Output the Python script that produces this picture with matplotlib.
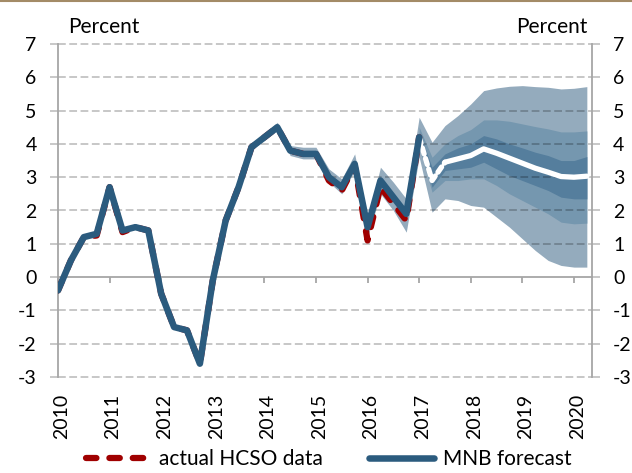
import matplotlib
matplotlib.use('Agg')
import matplotlib.pyplot as plt
from matplotlib.lines import Line2D
import numpy as np

plt.rcParams['font.family'] = ['Lato', 'DejaVu Sans']

# negyedéves adatok, 2010 Q1-től
actual = [-0.4, 0.5, 1.2, 1.25, 2.7, 1.35, 1.5, 1.4, -0.5, -1.5, -1.6, -2.6, -0.1,
          1.7, 2.7, 3.9, 4.2, 4.5, 3.8, 3.7, 3.7, 2.9, 2.6, 3.35, 1.1, 2.7, 2.2, 1.7, 4.2]
mnb = [-0.4, 0.5, 1.2, 1.3, 2.7, 1.4, 1.5, 1.4, -0.5, -1.5, -1.6, -2.6, -0.1,
       1.7, 2.7, 3.9, 4.2, 4.5, 3.8, 3.7, 3.7, 3.0, 2.7, 3.4, 1.5, 2.9, 2.4, 1.9, 4.2]

# múltbeli sáv (2013 Q3 - 2016 Q4)
hist_lo = [2.65, 3.82, 4.1, 4.4, 3.65, 3.55, 3.55, 2.85, 2.5, 3.2, 1.2, 2.5, 2.0, 1.35]
hist_hi = [2.75, 3.98, 4.3, 4.65, 3.95, 3.9, 3.9, 3.25, 2.95, 3.7, 1.75, 3.3, 2.85, 2.35]

# előrejelzés legyező (2017 Q1 - 2020 Q2)
center = [4.2, 2.9, 3.45, 3.55, 3.65, 3.85, 3.72, 3.57, 3.42, 3.27, 3.15, 3.02, 3.0, 3.03]
outer_lo = [3.6, 1.95, 2.35, 2.3, 2.15, 2.1, 1.8, 1.5, 1.15, 0.8, 0.5, 0.35, 0.3, 0.3]
outer_hi = [4.8, 4.05, 4.55, 4.85, 5.2, 5.6, 5.68, 5.73, 5.75, 5.72, 5.7, 5.65, 5.67, 5.72]
mid_lo = [3.9, 2.55, 2.9, 2.9, 2.95, 2.95, 2.75, 2.5, 2.3, 2.1, 1.9, 1.65, 1.6, 1.62]
mid_hi = [4.5, 3.6, 4.0, 4.25, 4.43, 4.72, 4.72, 4.68, 4.6, 4.52, 4.45, 4.36, 4.36, 4.39]
dark_lo = [4.05, 2.7, 3.2, 3.25, 3.3, 3.45, 3.25, 3.05, 2.9, 2.75, 2.6, 2.4, 2.35, 2.35]
dark_hi = [4.35, 3.3, 3.7, 3.88, 4.0, 4.25, 4.15, 4.0, 3.88, 3.75, 3.65, 3.5, 3.5, 3.62]

years = list(range(2010, 2021))
yticks = list(range(-3, 8))

t_line = 2010 + np.arange(len(mnb)) / 4
t_hist = 2010 + (14 + np.arange(len(hist_lo))) / 4
t_fc = 2010 + (28 + np.arange(len(center))) / 4

blue = '#2b5b7e'
red = '#a00000'
grey = '#a6a6a6'
fs = 15

fig = plt.figure(figsize=(6.32, 4.73), dpi=100)
ax = fig.add_axes([58 / 632, 1 - 377 / 473, 534 / 632, 333 / 473])

# sávok
ax.fill_between(np.concatenate([t_hist, t_fc]), hist_lo + outer_lo, hist_hi + outer_hi,
                color='#94abbd', lw=0, zorder=1)
ax.fill_between(t_fc, mid_lo, mid_hi, color='#7597af', lw=0, zorder=1.1)
ax.fill_between(t_fc, dark_lo, dark_hi, color='#557e9d', lw=0, zorder=1.2)

# rácsvonalak
for v in yticks:
    if v != 0:
        ax.axhline(v, color='k', alpha=0.22, lw=1.4, ls=(0, (4, 1.8)), zorder=1.5, clip_on=False)

ax.plot(t_line, actual, color=red, lw=4.5, dashes=(1.67, 2.07), dash_capstyle='round', zorder=3)
ax.plot(t_line, mnb, color=blue, lw=4.7, solid_capstyle='round', solid_joinstyle='round', zorder=4)
ax.plot(t_fc[:3], center[:3], color='white', lw=3.8, dashes=(1.2, 0.9), dash_capstyle='round', zorder=3.5)
ax.plot(t_fc[2:], center[2:], color='white', lw=3.8, solid_capstyle='round', zorder=3.5)

ax.set_xlim(2010, 2020.35)
ax.set_ylim(-3, 7)

ax.spines['top'].set_visible(False)
ax.spines['bottom'].set_position(('data', 0))
for s in ['left', 'right', 'bottom']:
    ax.spines[s].set_color(grey)
    ax.spines[s].set_linewidth(1.3)

ax.set_yticks(yticks)
ax.set_yticklabels([str(v) for v in yticks])
ax.tick_params(axis='y', left=True, right=True, labelleft=True, labelright=True,
               length=5.8, width=1.3, color='#c4c4c4', labelsize=14, pad=9.5)
ax.set_xticks(years)
ax.tick_params(axis='x', direction='out', length=4.5, width=1.3, color=grey, labelbottom=False)

for yr in years:
    ax.annotate(str(yr), (yr, -3), xytext=(2.5, -12), textcoords='offset points',
                rotation=90, ha='center', va='top', fontsize=14)

fig.text(68 / 632, 1 - 33 / 473, 'Percent', fontsize=fs, va='baseline', ha='left')
fig.text(587 / 632, 1 - 33 / 473, 'Percent', fontsize=fs, va='baseline', ha='right')

fig.add_artist(Line2D([0, 1], [1 - 1 / 473, 1 - 1 / 473], color='#a38b67', lw=1.5))

handles = [Line2D([], [], color=red, lw=4.5, dashes=(1.67, 2.07), dash_capstyle='round'),
           Line2D([], [], color=blue, lw=4.7, solid_capstyle='round')]
fig.legend(handles, ['actual HCSO data', 'MNB forecast'], loc='lower center',
           bbox_to_anchor=(0.52, -0.032), ncol=2, frameon=False, fontsize=fs,
           handlelength=3.1, handletextpad=0.45, columnspacing=2.2)

fig.savefig('out.png', dpi=100)
